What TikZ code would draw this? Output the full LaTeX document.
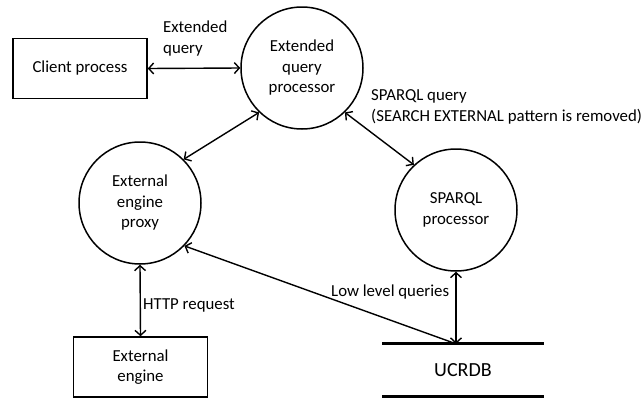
\documentclass[tikz,border=0pt]{standalone}
\usepackage{fontspec}
\setmainfont{Carlito}
\usetikzlibrary{arrows.meta,positioning}
\tikzset{
  proc/.style={circle,draw,line width=1.5pt,minimum size=122pt,inner sep=0pt,align=center},
  ext box/.style={draw,line width=1.5pt,minimum width=134pt,minimum height=60pt,inner sep=0pt,align=center},
  flow/.style={line width=1.4pt,{Straight Barb[length=5pt,width=11pt]}-{Straight Barb[length=5pt,width=11pt]}},
  flow one/.style={line width=1.4pt,-{Straight Barb[length=5pt,width=11pt]}},
  flow label/.style={align=left,inner sep=0pt,anchor=base west},
  store line/.style={line width=3pt}
}
\begin{document}
\begin{tikzpicture}[x=1pt,y=-1pt,font=\fontsize{16.8}{20.5}\selectfont]
  \useasboundingbox (0,0) rectangle (641,399);

  \node[ext box] (client) at (80,68.5) {Client process};
  \node[proc] (eqp) at (302,68) {Extended\\query\\processor};
  \node[proc] (proxy) at (140,203) {External\\engine\\proxy};
  \node[proc] (sparql) at (456,210) {SPARQL\\processor};
  \node[ext box] (engine) at (140.5,367) {External\\engine};
  \node[minimum width=161pt,minimum height=52pt,inner sep=0pt,font=\fontsize{20}{22}\selectfont]
    (ucrdb) at (463,370) {UCRDB};
  \draw[store line] (ucrdb.north west) -- (ucrdb.north east);
  \draw[store line] (ucrdb.south west) -- (ucrdb.south east);

  \draw[flow] (client.east) -- (eqp.west);
  \draw[flow] (eqp.226) -- (proxy.45);
  \draw[flow] (eqp.314) -- (sparql.133);
  \draw[flow] (proxy.south) -- (engine.north);
  \draw[flow] (sparql.south) -- (sparql.south |- ucrdb.north);
  \draw[flow one] (sparql.south |- ucrdb.north) -- (proxy.316);

  \node[flow label] (lbl ext) at (163,53) {Extended\\query};
  \node[flow label] (lbl sparql) at (371,121) {SPARQL query\\(SEARCH EXTERNAL pattern is removed)};
  \node[flow label] (lbl http) at (143,309) {HTTP request};
  \node[flow label] (lbl low) at (331,296) {Low level queries};
\end{tikzpicture}
\end{document}
